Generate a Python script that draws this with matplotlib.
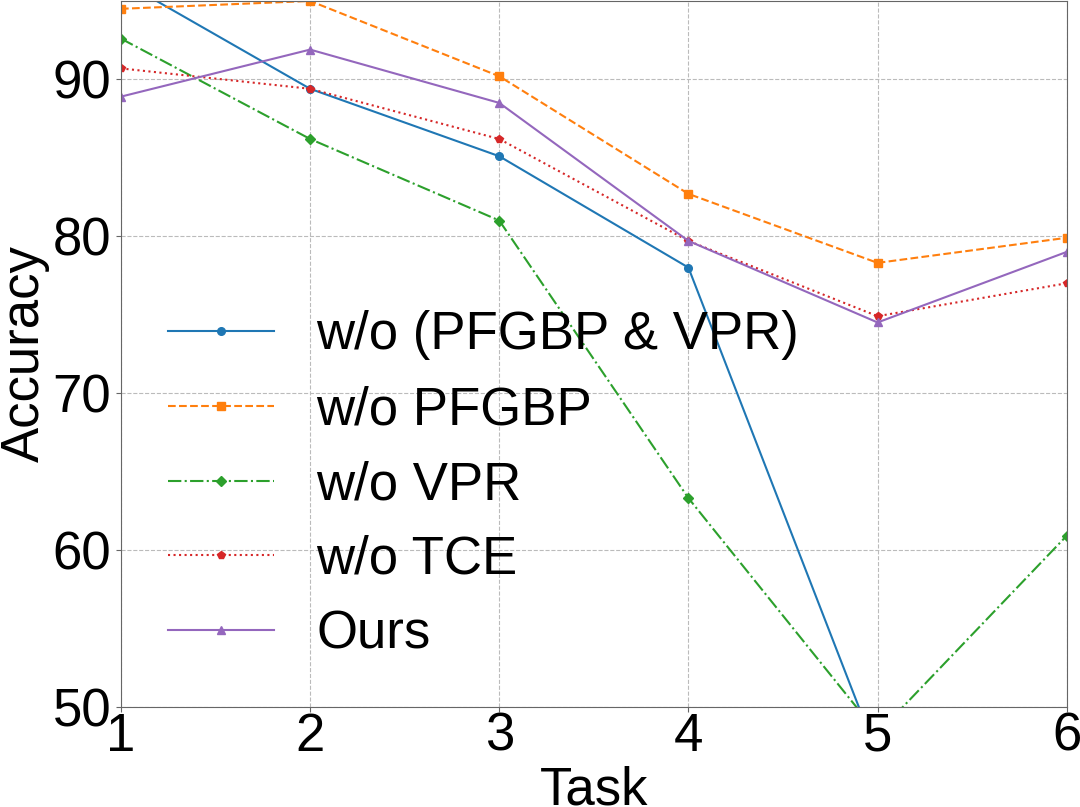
import matplotlib
matplotlib.use("Agg")
import matplotlib.pyplot as plt

plt.rcParams["font.family"] = ["Liberation Sans", "DejaVu Sans"]

# data
tasks = [1, 2, 3, 4, 5, 6]
wo_pfgbp_vpr = [96.3, 89.4, 85.1, 78.0, 46.9, 47.0]
wo_pfgbp = [94.5, 95.0, 90.2, 82.7, 78.3, 79.9]
wo_vpr = [92.6, 86.2, 81.0, 63.3, 48.3, 60.9]
wo_tce = [90.7, 89.4, 86.2, 79.7, 74.9, 77.0]
ours = [88.9, 91.9, 88.5, 79.7, 74.5, 79.0]

series_labels = ["w/o (PFGBP & VPR)", "w/o PFGBP", "w/o VPR", "w/o TCE", "Ours"]
y_ticks = [50, 60, 70, 80, 90]

styles = [
    ("#1f77b4", "-", "o"),
    ("#ff7f0e", "--", "s"),
    ("#2ca02c", "-.", "D"),
    ("#d62728", ":", "p"),
    ("#9467bd", "-", "^"),
]

fig = plt.figure(figsize=(10.8, 8.07), dpi=100)
ax = fig.add_axes([0.112, 0.1243, 0.8757, 0.8745])

for vals, label, (color, ls, mk) in zip(
        [wo_pfgbp_vpr, wo_pfgbp, wo_vpr, wo_tce, ours], series_labels, styles):
    ax.plot(tasks, vals, color=color, linestyle=ls, marker=mk,
            markersize=5.5, linewidth=1.5, label=label)

ax.set_xlim(1, 6)
ax.set_ylim(50, 95)
ax.set_xticks(tasks)
ax.set_yticks(y_ticks)
ax.tick_params(axis="both", labelsize=38, color="0.4")
ax.tick_params(axis="x", pad=0)
ax.grid(True, linestyle="--", color="#bbbbbb", linewidth=0.8)
for sp in ax.spines.values():
    sp.set_color("0.4")

ax.set_xlabel("Task", fontsize=38, labelpad=3)
ax.set_ylabel("Accuracy", fontsize=38, labelpad=2)

ax.legend(loc="center left", bbox_to_anchor=(0.0, 0.314), frameon=False,
          fontsize=38, labelspacing=0.47, handlelength=2.0, handletextpad=0.8)

fig.savefig("out.png", dpi=100)
